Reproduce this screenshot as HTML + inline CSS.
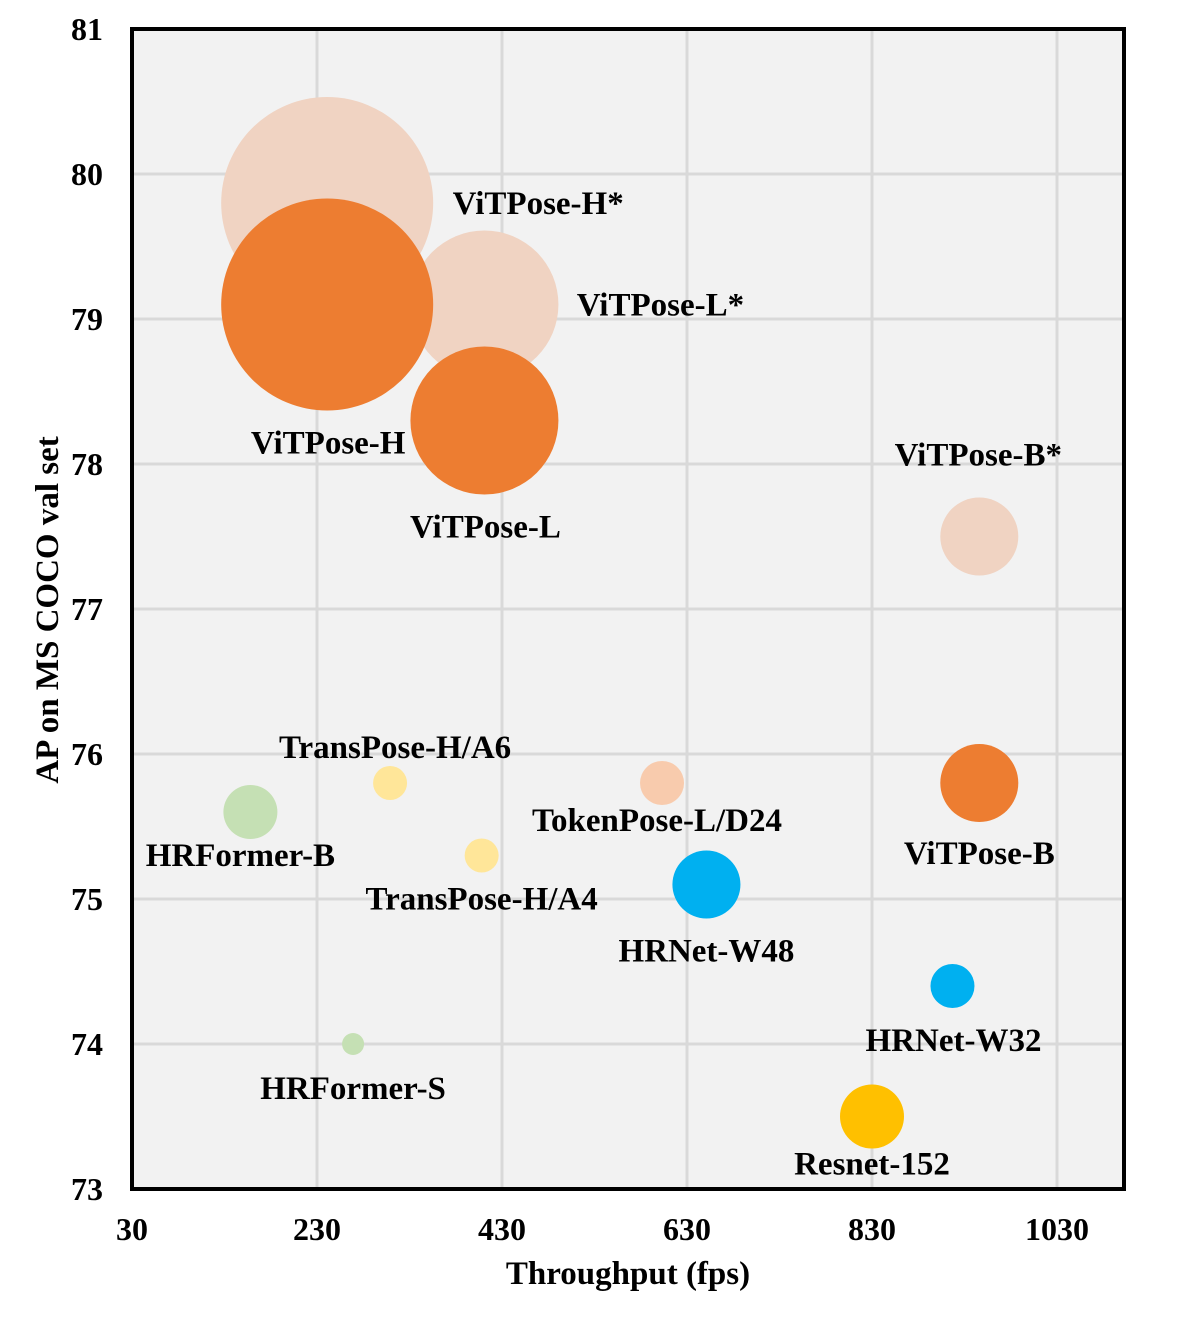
<!DOCTYPE html>
<html><head><meta charset="utf-8"><style>
html,body{margin:0;padding:0;background:#fff;}
svg text{font-family:"Liberation Serif",serif;font-weight:bold;fill:#000;}
</style></head><body>
<svg id="chart" width="1180" height="1317" xmlns="http://www.w3.org/2000/svg">
<g id="grid"></g><g id="bubbles"></g><g id="labels"></g><g id="axes"></g>
</svg>
<script>
const names=["ViTPose-H*","ViTPose-L*","ViTPose-H","ViTPose-L","ViTPose-B*","ViTPose-B","TransPose-H/A6","TransPose-H/A4","HRFormer-B","HRFormer-S","TokenPose-L/D24","HRNet-W48","HRNet-W32","Resnet-152"];
const throughput=[241,411,241,411,946,946,309,408,158,269,603,651,917,830];
const ap=[79.8,79.1,79.1,78.3,77.5,75.8,75.8,75.3,75.6,74.0,75.8,75.1,74.4,73.5];
const sizes=[106,74,106,74,39,39,17,17,27,11,22,34,22,32];
const xTicks=[30,230,430,630,830,1030];
const yTicks=[73,74,75,76,77,78,79,80,81];
const colors=["#F0D3C2","#F0D3C2","#ED7D31","#ED7D31","#F0D3C2","#ED7D31","#FFE699","#FFE699","#C5E0B4","#C5E0B4","#F8CBAD","#00B0F0","#00B0F0","#FFC000"];
const labelOffsets=[[211,11],[176,11],[1,149],[1,117],[-1,-71],[0,81],[5,-25],[0,54],[-10,54],[0,55],[-5,48],[0,77],[1,65],[0,58]];
const L=132,R=1124,T=29,B=1189;
const x=v=>L+(v-30)*0.925, y=v=>B-(v-73)*145;
const NS="http://www.w3.org/2000/svg";
function mk(tag,attrs,parent){const e=document.createElementNS(NS,tag);for(const k in attrs)e.setAttribute(k,attrs[k]);document.getElementById(parent).appendChild(e);return e;}
const bg=mk("rect",{x:L,y:T,width:R-L,height:B-T,fill:"#F2F2F2"},"grid");


xTicks.forEach(t=>{const l=mk("line",{x1:x(t),x2:x(t),y1:T,y2:B,stroke:"#D9D9D9","stroke-width":3},"grid");


const tx=mk("text",{x:x(t),y:1240,"text-anchor":"middle","font-size":32},"axes");tx.textContent=t;

});
yTicks.forEach(t=>{const l=mk("line",{x1:L,x2:R,y1:y(t),y2:y(t),stroke:"#D9D9D9","stroke-width":3},"grid");


const tx=mk("text",{x:103,y:y(t)+11,"text-anchor":"end","font-size":32},"axes");tx.textContent=t;

});
names.forEach((n,i)=>{const cx=x(throughput[i]),cy=y(ap[i]);
const c=mk("circle",{cx:cx,cy:cy,r:sizes[i],fill:colors[i]},"bubbles");


const t=mk("text",{x:cx+labelOffsets[i][0],y:cy+labelOffsets[i][1],"text-anchor":"middle","font-size":33},"labels");t.textContent=n;

});
const fr=mk("rect",{x:L,y:T,width:R-L,height:B-T,fill:"none",stroke:"#000","stroke-width":4},"axes");


const xt=mk("text",{x:628,y:1284,"text-anchor":"middle","font-size":33},"axes");xt.textContent="Throughput (fps)";


const yt=mk("text",{x:0,y:0,"text-anchor":"middle","font-size":33,transform:"translate(58,610) rotate(-90)"},"axes");yt.textContent="AP on MS COCO val set";


</script>
</body></html>
